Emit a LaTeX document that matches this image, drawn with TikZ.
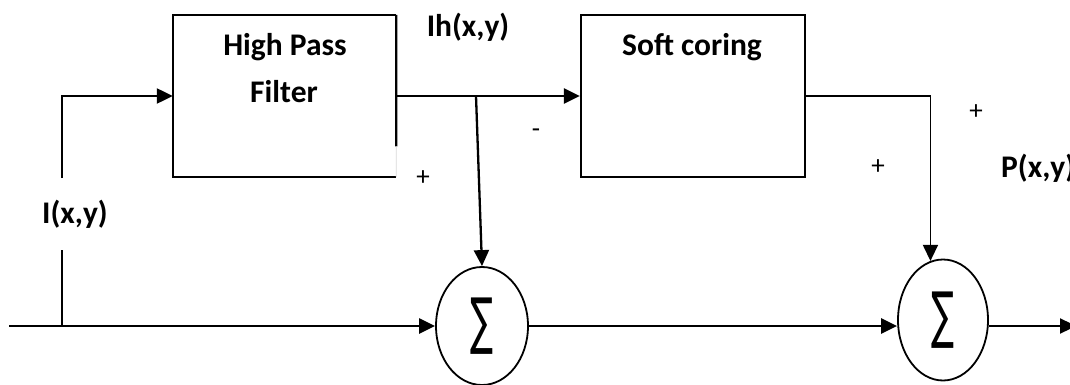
\documentclass[tikz,border=0pt]{standalone}
\usepackage{fontspec}
\setmainfont{Carlito}
\newfontfamily\symfont{DejaVu Sans}
\usetikzlibrary{arrows.meta,shapes.geometric,calc}

\begin{document}
\begin{tikzpicture}[x=1pt, y=-1pt,
  wire/.style={line width=2.3pt},
  arr/.style={wire, -{Triangle[length=16pt,width=15pt]}},
  block/.style={rectangle, minimum height=162pt, inner sep=0pt},
  adder/.style={ellipse, draw, line width=1.8pt, inner sep=0pt,
    font=\symfont\fontsize{62}{66}\selectfont},
  lbl/.style={font=\fontsize{31.5}{36}\selectfont\bfseries, inner sep=0pt},
  sign/.style={font=\fontsize{27}{30}\selectfont, inner sep=0pt}]

\useasboundingbox (0,0) rectangle (1070,385);

% blocks
\node[block, minimum width=223pt] (hpf) at (284.5,96) {};
\node[block, draw, line width=2.3pt, minimum width=224pt] (soft) at (693,96) {};
\draw[wire] (hpf.north east) -- (hpf.north west) -- (hpf.south west) -- (hpf.south east);
\draw[wire] (hpf.north east) -- ($(hpf.north east)!0.81!(hpf.south east)$) coordinate (hpfgap);
\draw[black!15, line width=0.8pt] (hpfgap) -- (hpf.south east);

\node[lbl] (hpftxt1) at (285,47) {High Pass};
\node[lbl] (hpftxt2) at (284,92) {Filter};
\node[lbl] (softtxt) at (692,47) {Soft coring};

% summing junctions
\node[adder, minimum width=92pt, minimum height=118pt] (sum1) at (482,326)
  {\scalebox{0.55}[1]{∑}};
\node[adder, minimum width=90pt, minimum height=121pt] (sum2) at (943,320)
  {\scalebox{0.55}[1]{∑}};

% signal labels
\node[lbl] (lin) at (75,214) {I(x,y)};
\node[lbl] (lih) at (468,27) {Ih(x,y)};
\node[lbl, anchor=west] (lp) at (1001,168) {P(x,y)};

% signs
\node[sign] (s1) at (423,178) {+};
\node[sign] (s2) at (536,133) {-};
\node[sign] (s3) at (976,112) {+};
\node[sign] (s4) at (878,167) {+};

% connectors
\coordinate (in) at (9,326);
\coordinate (tapbot) at (62,326);
\coordinate (tapmid) at (62,250);
\coordinate (tapup) at (62,178);
\coordinate (branch) at (476,96);
\coordinate (out) at (1076,326);

\draw[arr] (in) -- (sum1.west);
\draw[wire, line width=1.6pt] (tapbot) -- (tapmid);
\draw[arr] (tapup) |- (hpf.west);
\draw[arr] (hpf.east) -- (soft.west);
\draw[arr] (branch) -- (sum1.north);
\draw[arr, line width=1.6pt] (soft.east) -| (sum2.102);
\draw[arr] (sum1.east) -- (sum1.east -| sum2.west);
\draw[arr] (out -| sum2.east) -- (out);
\end{tikzpicture}
\end{document}
